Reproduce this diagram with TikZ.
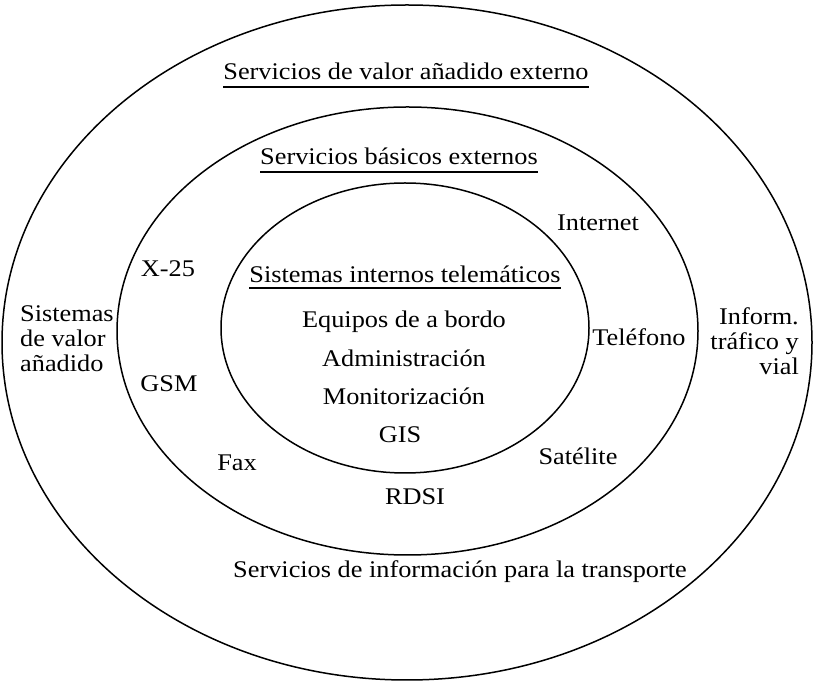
\documentclass[tikz,border=0pt]{standalone}
\usepackage{fontspec}
\setmainfont{Liberation Serif}[FakeStretch=1.1]
\usepackage{tikz}
\usetikzlibrary{positioning,calc}

\tikzset{
  ring/.style={line width=1.5bp},
  lbl/.style={inner sep=0pt,font=\fontsize{24}{25.5}\selectfont},
  uline/.style={line width=1.8bp},
}

\begin{document}
\begin{tikzpicture}[line join=bevel,]
\useasboundingbox (0bp,0bp) rectangle (816bp,682bp);
%% the three rings
\draw [ring] (407bp,339.5bp) ellipse [x radius=405bp, y radius=337.5bp];
\draw [ring] (407.5bp,351bp) ellipse [x radius=290.5bp, y radius=224bp];
\draw [ring] (405bp,354bp) ellipse [x radius=184bp, y radius=145bp];
%% headings
\node (vaext) at (406bp,602bp) [lbl,anchor=base] {Servicios de valor añadido externo};
  \node (basext) at (399bp,517bp) [lbl,anchor=base] {Servicios básicos externos};
  \node (sisint) at (405bp,399bp) [lbl,anchor=base] {Sistemas internos telemáticos};
  \draw [uline] ([yshift=-7bp]vaext.base west) -- ([yshift=-7bp]vaext.base east);
  \draw [uline] ([yshift=-7bp]basext.base west) -- ([yshift=-7bp]basext.base east);
  \draw [uline] ([yshift=-5bp]sisint.base west) -- ([yshift=-5bp]sisint.base east);
%% inner ring
\node (equipos) at (404bp,354bp) [lbl,anchor=base] {Equipos de a bordo};
  \node (admin) at (404bp,315bp) [lbl,anchor=base] {Administración};
  \node (monit) at (404bp,277bp) [lbl,anchor=base] {Monitorización};
  \node (gis) at (400bp,239bp) [lbl,anchor=base] {GIS};
%% middle ring
\node (x25) at (168bp,405bp) [lbl,anchor=base] {X-25};
  \node (gsm) at (169bp,290bp) [lbl,anchor=base] {GSM};
  \node (fax) at (237bp,211bp) [lbl,anchor=base] {Fax};
  \node (rdsi) at (415bp,177bp) [lbl,anchor=base] {RDSI};
  \node (satel) at (578bp,217bp) [lbl,anchor=base] {Satélite};
  \node (telef) at (639bp,336bp) [lbl,anchor=base] {Teléfono};
  \node (inet) at (598bp,451bp) [lbl,anchor=base] {Internet};
%% outer ring
\node (sisval) at (20bp,377bp) [lbl,anchor=north west,align=left] {Sistemas\\de valor\\añadido};
  \node (infotraf) at (799bp,375bp) [lbl,anchor=north east,align=right] {Inform.\\tráfico y\\vial};
  \node (sitrans) at (460bp,104bp) [lbl,anchor=base] {Servicios de información para la transporte};
%
\end{tikzpicture}
\end{document}
